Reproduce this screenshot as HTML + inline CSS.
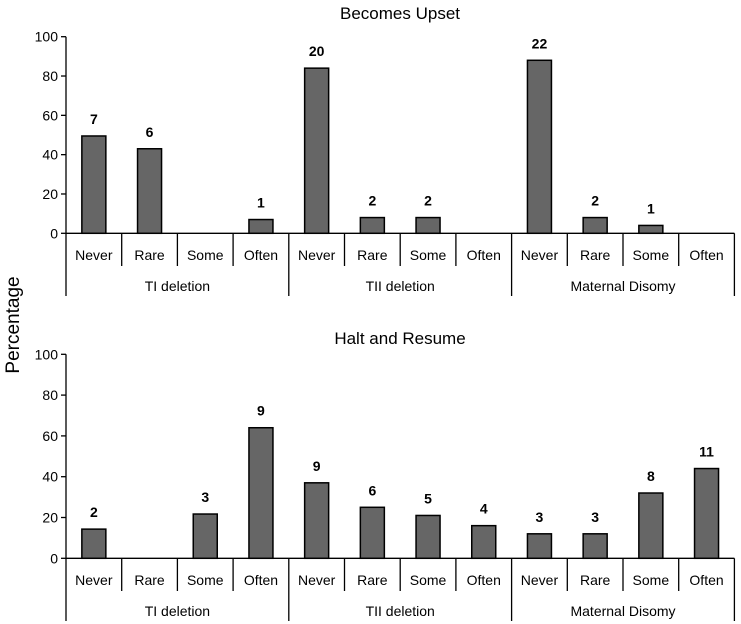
<!DOCTYPE html>
<html><head><meta charset="utf-8"><style>
body{margin:0;background:#fff}
svg{display:block;font-family:"Liberation Sans",Arial,sans-serif}
</style></head><body>
<svg id="c" width="741" height="624" viewBox="0 0 741 624">
<text x="400" y="19" font-size="17" text-anchor="middle">Becomes Upset</text>
<text x="400" y="344" font-size="17" text-anchor="middle">Halt and Resume</text>
<text transform="translate(19,325) rotate(-90)" font-size="19" text-anchor="middle">Percentage</text>
</svg>
<script>
const groups=["TI deletion","TII deletion","Maternal Disomy"];
const cats=["Never","Rare","Some","Often"];
const upsetVals=[49.5,43,0,7,84,8,8,0,88,8,4,0];
const upsetCounts=["7","6","","1","20","2","2","","22","2","1",""];
const haltVals=[14.3,0,21.7,64,37,25,21,16,12,12,32,44];
const haltCounts=["2","","3","9","9","6","5","4","3","3","8","11"];
const yTicks=[0,20,40,60,80,100];
const svg=document.getElementById('c');
const NS="http://www.w3.org/2000/svg";
function mk(t,a,txt){const e=document.createElementNS(NS,t);for(const k in a)e.setAttribute(k,a[k]);if(txt!==undefined)e.textContent=txt;svg.appendChild(e);return e;}
const x0=66,cw=55.7,bw=24;
function panel(vals,counts,y0,y100,tickEnd,grpEnd,id){
  const y=v=>y0-(y0-y100)*v/100;
  const ax=mk('line',{x1:x0,y1:y100,x2:x0,y2:grpEnd,stroke:'#000','stroke-width':1.3});
  
  
  const xl=mk('line',{x1:x0,y1:y0,x2:x0+12*cw,y2:y0,stroke:'#000','stroke-width':1.3});
  
  
  yTicks.forEach(t=>{
    mk('line',{x1:x0-5,y1:y(t),x2:x0,y2:y(t),stroke:'#000','stroke-width':1.3});
    const tl=mk('text',{x:x0-8,y:y(t)+5,'font-size':14,'text-anchor':'end'},t);
    
    
  });
  for(let i=0;i<12;i++){
    const cx=x0+cw*(i+0.5);
    const bx=x0+cw*(i+1);
    mk('line',{x1:bx,y1:y0,x2:bx,y2:(i%4==3)?grpEnd:tickEnd,stroke:'#000','stroke-width':1.3});
    const cl=mk('text',{x:cx,y:tickEnd-6,'font-size':14,'text-anchor':'middle'},cats[i%4]);
    
    
    if(vals[i]>0){
      const r=mk('rect',{x:cx-bw/2,y:y(vals[i]),width:bw,height:y0-y(vals[i]),fill:'#666',stroke:'#000','stroke-width':1.5});
      
      
    }
    if(counts[i]){
      const c=mk('text',{x:cx,y:y(vals[i])-12,'font-size':14,'font-weight':'bold','text-anchor':'middle'},counts[i]);
      
      
    }
  }
  groups.forEach((g,j)=>{
    const gl=mk('text',{x:x0+cw*(4*j+2),y:tickEnd+25,'font-size':14,'text-anchor':'middle'},g);
    
    
  });
}
panel(upsetVals,upsetCounts,233.3,36.7,266,296,'upset');
panel(haltVals,haltCounts,558.3,354.3,591,621,'halt');
</script>
</body></html>
